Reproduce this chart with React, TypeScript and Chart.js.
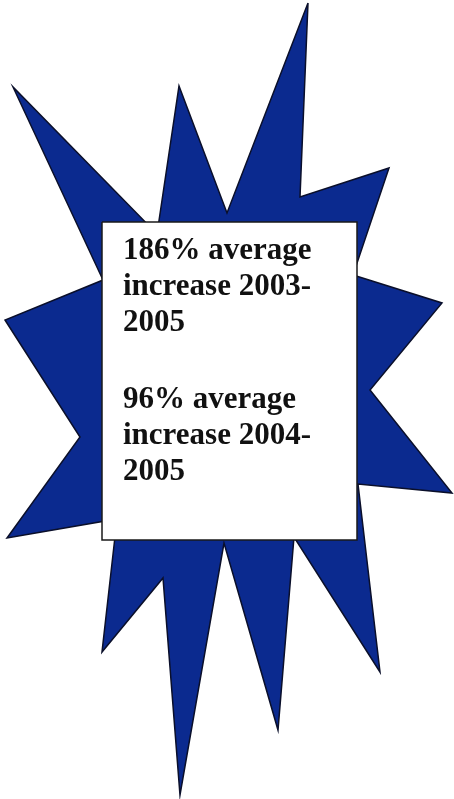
import { useEffect, useRef } from "react";
import { Chart, registerables } from "chart.js";

Chart.register(...registerables);

// star outline, clockwise from the top tip (picture px)
const starX = [308, 300, 389, 353, 442, 370, 452, 358, 380, 294, 278, 224, 180, 163, 102, 117, 7, 80, 5, 103, 13, 157, 179, 227, 308];
const starY = [3, 197, 168, 275, 303, 390, 493, 484, 672, 537, 730, 543, 795, 578, 652, 519, 538, 437, 320, 280, 87, 234, 86, 213, 3];

// white text panel
const boxX = [102, 357, 357, 102, 102];
const boxY = [222, 222, 540, 540, 222];

const block1 = ["186% average", "increase 2003-", "2005"];
const block2 = ["96% average", "increase 2004-", "2005"];

const W = 454;
const H = 799;

function pts(xs: number[], ys: number[]) {
  return xs.map((x, i) => ({ x, y: ys[i] }));
}

export default function App() {
  const canvasRef = useRef<HTMLCanvasElement>(null);

  useEffect(() => {
    document.body.style.margin = "0";
    if (!canvasRef.current) return;
    const chart = new Chart(canvasRef.current, {
      type: "scatter",
      data: {
        datasets: [
          {
            data: pts(boxX, boxY),
            showLine: true,
            fill: "shape",
            backgroundColor: "#ffffff",
            borderColor: "#1a1a1a",
            borderWidth: 1.5,
            pointRadius: 0,
            tension: 0,
            order: 0,
          },
          {
            data: pts(starX, starY),
            showLine: true,
            fill: "shape",
            backgroundColor: "#0b2a8f",
            borderColor: "#0a0f2a",
            borderWidth: 1.5,
            pointRadius: 0,
            tension: 0,
            order: 1,
          },
        ],
      },
      options: {
        animation: false,
        responsive: false,
        maintainAspectRatio: false,
        layout: { padding: 0 },
        plugins: { legend: { display: false }, tooltip: { enabled: false } },
        scales: {
          x: { type: "linear", min: 0, max: W, display: false },
          y: { type: "linear", min: 0, max: H, reverse: true, display: false },
        },
      },
    });
    return () => { chart.destroy(); };
  }, []);

  const textStyle = {
    position: "absolute" as const,
    left: 123,
    fontFamily: "'Liberation Serif', 'Times New Roman', serif",
    fontWeight: 700,
    fontSize: 31,
    lineHeight: "36px",
    color: "#111",
    whiteSpace: "nowrap" as const,
  };

  return (
    <div style={{ position: "relative", width: W, height: H, background: "#fff" }}>
      <canvas ref={canvasRef} width={W} height={H} style={{ display: "block", width: W, height: H }} />
      <div style={{ ...textStyle, top: 231 }}>
        {block1.map((t, i) => <div key={i}>{t}</div>)}
      </div>
      <div style={{ ...textStyle, top: 380 }}>
        {block2.map((t, i) => <div key={i}>{t}</div>)}
      </div>
    </div>
  );
}
